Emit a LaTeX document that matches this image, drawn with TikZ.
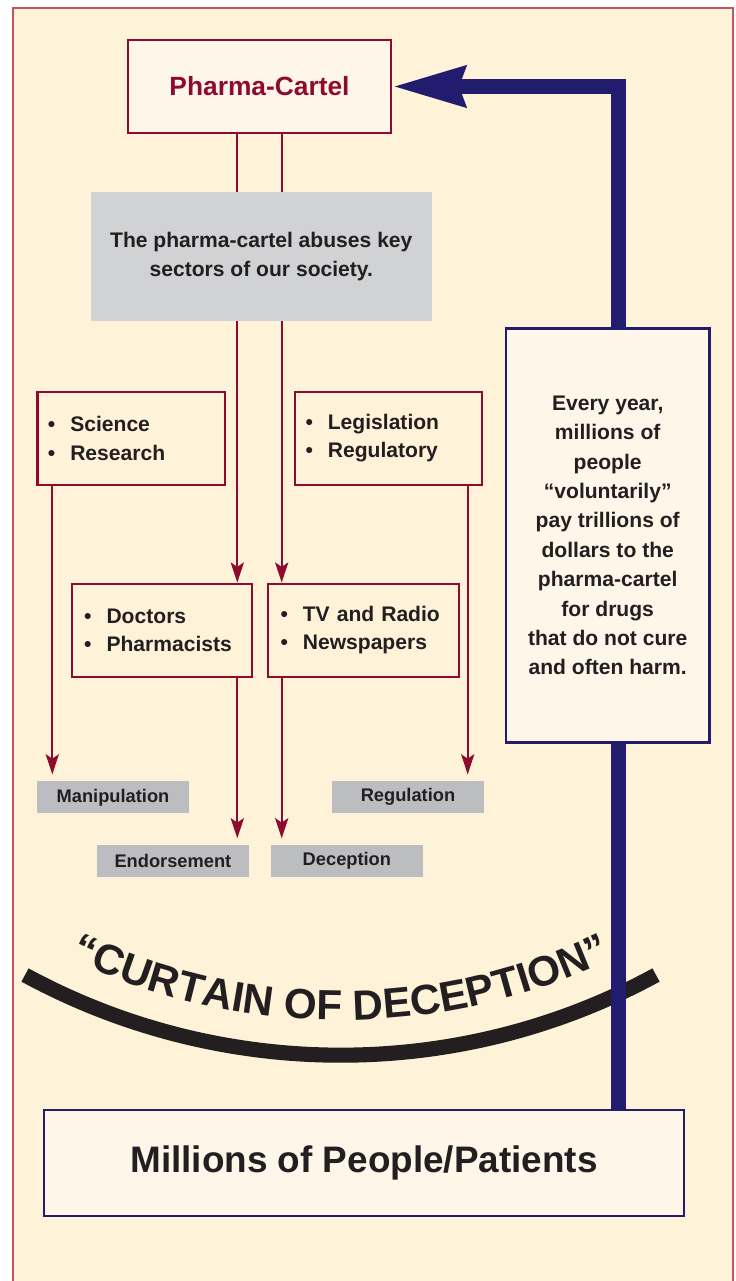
\documentclass[tikz,border=0pt]{standalone}
\usepackage{fontspec}
\setmainfont{Liberation Sans}
\usetikzlibrary{arrows.meta,decorations.text}
\definecolor{cream}{RGB}{254,242,217}
\definecolor{paper}{RGB}{255,246,234}
\definecolor{cartel}{RGB}{142,11,48}
\definecolor{framered}{RGB}{196,84,96}
\definecolor{navy}{RGB}{33,28,110}
\definecolor{ink}{RGB}{35,31,32}
\definecolor{panel}{RGB}{209,210,212}
\definecolor{tag}{RGB}{188,189,192}
\tikzstyle{sector}=[draw=cartel, line width=1.2pt, fill=cream, inner ysep=0pt, minimum height=1.86cm, align=left, text=ink, font=\fontsize{12}{16.2}\selectfont\bfseries]
\tikzstyle{tagbox}=[fill=tag, minimum width=3.03cm, minimum height=0.64cm, inner sep=0pt, text=ink, font=\fontsize{10.4}{12}\selectfont\bfseries]
\tikzstyle{bluebox}=[draw=navy, line width=1.4pt, fill=paper, inner sep=0pt, text=ink]
\tikzstyle{redline}=[draw=cartel, line width=1.2pt]
\tikzstyle{redarrow}=[redline, -{Stealth[length=11.5pt, width=7.5pt, inset=2.5pt]}]
\tikzstyle{blueline}=[draw=navy, line width=8.6pt]

\begin{document}
\begin{tikzpicture}[x=0.02cm, y=-0.02cm]

    \useasboundingbox (0,0) rectangle (736,1281);
    \fill[cream] (13,8) rectangle (733,1281);
    \draw[framered, line width=0.8pt] (13,1281) -- (13,8) -- (733,8) -- (733,1281);

    \node[draw=cartel, line width=1.2pt, fill=paper, minimum width=5.26cm, minimum height=1.86cm, text=cartel, font=\fontsize{15}{18}\selectfont\bfseries] (pharma) at (259.5,86.5) {Pharma-Cartel};

    \node[fill=panel, minimum width=6.81cm, minimum height=2.57cm, align=center, text=ink, font=\fontsize{12}{17}\selectfont\bfseries] (abuse) at (261.3,256.5) {The pharma-cartel abuses key\\sectors of our society.};

    \foreach \x/\y/\w/\tw/\name/\first/\second in {131.2/438.3/3.75/3.33/science/Science/Research, 388.5/438.3/3.74/3.32/legis/Legislation/Regulatory, 161.7/630.2/3.6/3.1/doctors/Doctors/Pharmacists, 363.5/630.2/3.82/3.32/media/TV and Radio/Newspapers}
        \node[sector, minimum width=\w cm, text width=\tw cm, inner xsep={(\w-\tw)*0.5cm}] (\name) at (\x,\y) {\textbullet\hspace{8.5pt}\first\\\textbullet\hspace{8.5pt}\second};

    \foreach \x/\y/\name/\txt in {113/797.3/manip/Manipulation, 408/797.3/regul/Regulation, 172.9/861.2/endorse/Endorsement, 346.9/861.2/decept/Deception}
        \node[tagbox] (\name) at (\x,\y) {\txt};

    \node[bluebox, minimum width=4.07cm, minimum height=8.29cm, align=center, font=\fontsize{12}{16.7}\selectfont\bfseries] (yearly) at (607.7,535.5) {Every year,\\millions of\\people\\“voluntarily”\\pay trillions of\\dollars to the\\pharma-cartel\\for drugs\\that do not cure\\and often harm.};

    \node[bluebox, minimum width=12.8cm, minimum height=2.12cm, font=\fontsize{21}{25}\selectfont\bfseries] (people) at (364,1163) {Millions of People/Patients};

    \coordinate (sx) at (52.3,0);
    \coordinate (lx) at (237.3,0);
    \coordinate (rx) at (281.7,0);
    \coordinate (gx) at (467.7,0);
    \coordinate (bx) at (618.3,0);

    \foreach \col in {lx, rx}
        \path[redline] (pharma.south -| \col) -- (abuse.north -| \col);

    \foreach \dest/\col in {doctors/lx, media/rx}
        \path[redarrow] (abuse.south -| \col) -- (\dest.north -| \col);

    \foreach \source/\dest/\col in {science/manip/sx, legis/regul/gx, doctors/endorse/lx, media/decept/rx}
        \path[redarrow, shorten >=0.13cm] (\source.south -| \col) -- (\dest.north -| \col);

    \draw[ink, line width=8.6pt] (25,975) .. controls (221.5,1081.7) and (459.5,1082.1) .. (656,975);
    \path[decorate, decoration={text along path, text align=center, text color=ink,
        text={|\fontsize{24}{24}\selectfont\bfseries|“CURTAIN OF DECEPTION”}}]
        (41.9,944.4) .. controls (228,1045.4) and (453.3,1045.8) .. (639.4,944.4);

    \path[blueline] (people.north -| bx) -- (yearly.south -| bx);
    \path[blueline, line join=miter, -{Stealth[length=41pt, width=22pt, inset=3pt]}] (yearly.north -| bx) |- (pharma.east);

\end{tikzpicture}
\end{document}
